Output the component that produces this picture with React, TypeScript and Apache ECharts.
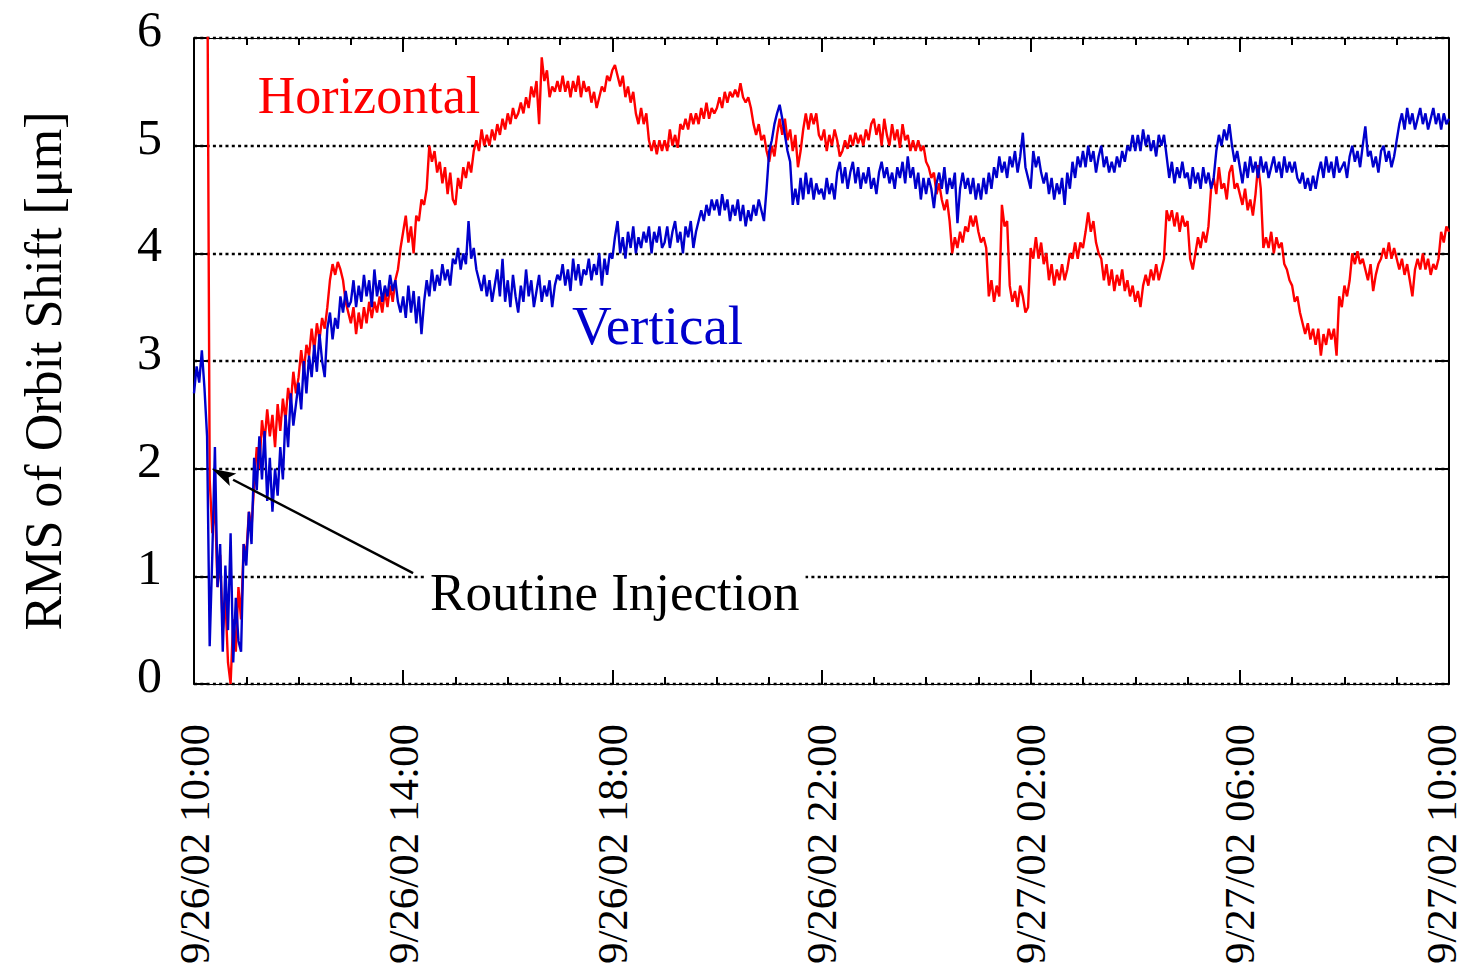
import React, { useEffect, useRef } from "react";
import * as echarts from "echarts";

// Orbit RMS drift over one day, sampled every 0.05 h from 9/26/02 10:00.
const SAMPLE_STEP_H = 0.05;
const TIME_LABELS = [
  "9/26/02 10:00",
  "9/26/02 14:00",
  "9/26/02 18:00",
  "9/26/02 22:00",
  "9/27/02 02:00",
  "9/27/02 06:00",
  "9/27/02 10:00",
];
const Y_TICKS = [0, 1, 2, 3, 4, 5, 6];

// Horizontal RMS [um], one row per hour (20 samples each), final sample at +24 h.
const horizontalRms = [
  7.5, 7.5, 7.5, 7.5, 7.5, 7.3, 1.9, 1.4, 1.7, 0.9, 1.2, 0.5, 0.8, 0.2, 0.0, 0.6, 0.3, 0.9, 0.6, 1.3,
  1.2, 1.6, 1.45, 1.85, 2.2, 2.0, 2.45, 2.25, 2.55, 2.3, 2.5, 2.2, 2.6, 2.35, 2.65, 2.45, 2.75, 2.6, 2.9, 2.7,
  2.85, 3.1, 2.9, 3.15, 3.05, 3.3, 3.1, 3.35, 3.2, 3.4, 3.3, 3.5, 3.75, 3.9, 3.8, 3.92, 3.85, 3.75, 3.55, 3.45,
  3.35, 3.5, 3.25, 3.45, 3.3, 3.5, 3.35, 3.55, 3.4, 3.55, 3.45, 3.6, 3.45, 3.65, 3.5, 3.7, 3.55, 3.75, 3.85, 4.05,
  4.2, 4.35, 4.1, 4.25, 4.0, 4.35, 4.3, 4.5, 4.45, 4.6, 5.0, 4.85, 4.95, 4.75, 4.85, 4.65, 4.8, 4.55, 4.75, 4.5,
  4.45, 4.7, 4.6, 4.8, 4.7, 4.85, 4.75, 4.95, 5.05, 4.95, 5.15, 5.0, 5.1, 5.0, 5.15, 5.05, 5.2, 5.1, 5.25, 5.15,
  5.3, 5.2, 5.35, 5.25, 5.3, 5.4, 5.3, 5.45, 5.35, 5.55, 5.45, 5.6, 5.2, 5.82, 5.6, 5.7, 5.45, 5.55, 5.5, 5.6,
  5.5, 5.65, 5.5, 5.6, 5.45, 5.6, 5.5, 5.65, 5.45, 5.6, 5.5, 5.55, 5.4, 5.5, 5.35, 5.45, 5.55, 5.5, 5.65, 5.6,
  5.7, 5.75, 5.65, 5.55, 5.65, 5.45, 5.55, 5.4, 5.5, 5.3, 5.2, 5.35, 5.2, 5.3, 5.05, 4.95, 5.05, 4.92, 5.05, 4.95,
  5.05, 4.95, 5.15, 5.0, 5.1, 4.98, 5.2, 5.15, 5.25, 5.15, 5.3, 5.2, 5.3, 5.2, 5.35, 5.25, 5.4, 5.25, 5.35, 5.3,
  5.35, 5.45, 5.35, 5.5, 5.4, 5.5, 5.45, 5.52, 5.45, 5.58, 5.45, 5.4, 5.45, 5.35, 5.2, 5.1, 5.2, 5.05, 5.1, 4.95,
  4.85, 5.0, 4.9, 5.1, 5.25, 5.1, 5.25, 5.05, 5.15, 4.95, 5.1, 4.8, 4.95, 5.15, 5.3, 5.15, 5.3, 5.2, 5.3, 5.1,
  5.05, 5.15, 4.95, 5.1, 5.0, 5.15, 5.05, 4.9, 4.95, 5.05, 4.97, 5.1, 5.0, 5.12, 5.02, 5.1, 5.0, 5.15, 5.05, 5.2,
  5.25, 5.1, 5.2, 5.0, 5.25, 5.1, 5.0, 5.2, 5.05, 5.15, 4.98, 5.2, 5.05, 5.1, 4.95, 5.05, 4.95, 5.05, 4.95, 5.0,
  4.85, 4.8, 4.7, 4.75, 4.55, 4.65, 4.5, 4.4, 4.5, 4.3, 4.0, 4.15, 4.05, 4.2, 4.1, 4.25, 4.2, 4.35, 4.25, 4.35,
  4.2, 4.1, 4.15, 4.05, 3.6, 3.75, 3.55, 3.7, 3.6, 4.45, 4.25, 4.3, 3.7, 3.55, 3.65, 3.5, 3.7, 3.6, 3.45, 3.5,
  4.05, 3.95, 4.15, 3.95, 4.1, 3.9, 4.0, 3.75, 3.9, 3.7, 3.85, 3.75, 3.9, 3.75, 3.85, 4.0, 3.95, 4.1, 3.95, 4.1,
  4.05, 4.2, 4.38, 4.2, 4.3, 4.1, 4.0, 3.95, 3.75, 3.9, 3.7, 3.85, 3.65, 3.8, 3.7, 3.85, 3.65, 3.75, 3.6, 3.7,
  3.55, 3.65, 3.5, 3.7, 3.8, 3.7, 3.85, 3.75, 3.9, 3.75, 3.85, 3.95, 4.4, 4.3, 4.4, 4.25, 4.38, 4.2, 4.35, 4.25,
  4.3, 3.95, 3.85, 4.0, 4.15, 4.05, 4.2, 4.1, 4.25, 4.6, 4.7, 4.55, 4.8, 4.6, 4.65, 4.5, 4.75, 4.82, 4.6, 4.65,
  4.55, 4.45, 4.6, 4.4, 4.5, 4.35, 4.55, 4.82, 4.6, 4.05, 4.15, 4.05, 4.2, 4.0, 4.15, 4.05, 4.1, 3.9, 3.85, 3.75,
  3.7, 3.55, 3.6, 3.45, 3.35, 3.25, 3.35, 3.2, 3.3, 3.15, 3.3, 3.05, 3.25, 3.15, 3.3, 3.2, 3.3, 3.05, 3.6, 3.5,
  3.7, 3.6, 3.75, 4.0, 3.9, 4.02, 3.9, 3.95, 3.85, 3.75, 3.9, 3.65, 3.8, 3.9, 3.95, 4.05, 3.95, 4.1, 3.95, 4.05,
  3.95, 3.85, 3.95, 3.8, 3.9, 3.75, 3.6, 3.85, 3.95, 3.85, 4.0, 3.85, 3.95, 3.8, 3.9, 3.85, 3.95, 4.2, 4.1, 4.25,
  4.2,
];

// Vertical RMS [um], same sampling.
const verticalRms = [
  2.7, 2.95, 2.8, 3.1, 2.75, 2.3, 0.35, 1.2, 2.2, 0.9, 1.3, 0.3, 1.1, 0.5, 1.4, 0.2, 0.8, 0.4, 0.3, 1.3,
  1.1, 1.6, 1.3, 2.1, 1.8, 2.3, 1.9, 2.35, 1.7, 2.1, 1.6, 2.0, 1.75, 2.2, 1.9, 2.5, 2.2, 2.7, 2.4, 2.6,
  2.8, 2.55, 3.0, 2.7, 3.05, 2.85, 3.15, 2.9, 3.25, 3.0, 2.85, 3.3, 3.45, 3.2, 3.4, 3.3, 3.6, 3.45, 3.65, 3.5,
  3.55, 3.75, 3.5, 3.7, 3.55, 3.8, 3.6, 3.75, 3.5, 3.85, 3.6, 3.75, 3.55, 3.7, 3.6, 3.8, 3.65, 3.75, 3.55, 3.45,
  3.6, 3.4, 3.7, 3.45, 3.65, 3.35, 3.6, 3.25, 3.55, 3.75, 3.6, 3.85, 3.65, 3.8, 3.7, 3.9, 3.75, 3.85, 3.7, 3.95,
  3.9, 4.05, 3.85, 4.0, 3.9, 4.3, 3.95, 4.05, 3.85, 3.75, 3.65, 3.8, 3.6, 3.75, 3.55, 3.7, 3.85, 3.6, 3.95, 3.55,
  3.75, 3.5, 3.8, 3.6, 3.45, 3.7, 3.55, 3.85, 3.6, 3.75, 3.5, 3.65, 3.8, 3.55, 3.7, 3.6, 3.75, 3.5, 3.7, 3.8,
  3.75, 3.9, 3.7, 3.85, 3.65, 3.95, 3.75, 3.9, 3.7, 3.85, 3.8, 3.95, 3.75, 3.9, 3.8, 4.0, 3.7, 3.95, 3.8, 4.0,
  3.95, 4.15, 4.3, 4.0, 4.15, 3.95, 4.2, 4.05, 4.25, 4.0, 4.15, 4.05, 4.2, 4.1, 4.25, 4.0, 4.2, 4.1, 4.25, 4.05,
  4.1, 4.25, 4.05, 4.2, 4.3, 4.1, 4.2, 4.0, 4.25, 4.15, 4.3, 4.05, 4.2, 4.3, 4.4, 4.3, 4.45, 4.35, 4.5, 4.4,
  4.5, 4.35, 4.55, 4.4, 4.5, 4.3, 4.45, 4.35, 4.5, 4.3, 4.45, 4.25, 4.4, 4.3, 4.45, 4.35, 4.5, 4.4, 4.3, 4.6,
  4.95, 5.05, 5.2, 5.3, 5.38, 5.25, 5.1, 4.95, 4.85, 4.45, 4.6, 4.45, 4.7, 4.5, 4.75, 4.55, 4.7, 4.5, 4.65, 4.55,
  4.6, 4.5, 4.7, 4.55, 4.65, 4.5, 4.75, 4.85, 4.65, 4.8, 4.6, 4.75, 4.85, 4.65, 4.8, 4.6, 4.75, 4.65, 4.8, 4.6,
  4.7, 4.55, 4.75, 4.85, 4.7, 4.8, 4.65, 4.75, 4.6, 4.8, 4.7, 4.85, 4.65, 4.9, 4.7, 4.8, 4.6, 4.75, 4.5, 4.7,
  4.55, 4.7, 4.6, 4.42, 4.65, 4.75, 4.6, 4.8, 4.55, 4.7, 4.6, 4.75, 4.28, 4.6, 4.75, 4.6, 4.7, 4.55, 4.7, 4.5,
  4.65, 4.5, 4.7, 4.55, 4.75, 4.6, 4.8, 4.7, 4.9, 4.75, 4.85, 4.7, 4.9, 4.8, 4.95, 4.75, 4.9, 5.12, 4.8, 4.7,
  4.6, 4.95, 4.8, 4.9, 4.75, 4.65, 4.75, 4.55, 4.7, 4.5, 4.65, 4.55, 4.7, 4.45, 4.75, 4.6, 4.85, 4.7, 4.9, 4.8,
  4.95, 4.8, 5.0, 4.85, 4.95, 4.75, 4.9, 5.0, 4.8, 4.9, 4.75, 4.85, 4.75, 4.9, 4.8, 4.95, 4.85, 5.0, 4.95, 5.1,
  4.95, 5.1, 4.95, 5.15, 5.0, 5.1, 4.95, 5.05, 4.9, 5.1, 5.0, 5.1, 4.9, 4.7, 4.85, 4.65, 4.8, 4.7, 4.85, 4.7,
  4.75, 4.6, 4.8, 4.65, 4.75, 4.6, 4.8, 4.65, 4.75, 4.6, 4.7, 4.95, 5.1, 5.0, 5.15, 5.05, 5.2, 5.0, 4.85, 4.95,
  4.8, 4.65, 4.85, 4.7, 4.9, 4.75, 4.85, 4.7, 4.9, 4.75, 4.85, 4.7, 4.8, 4.9, 4.75, 4.85, 4.7, 4.9, 4.75, 4.85,
  4.75, 4.85, 4.7, 4.65, 4.75, 4.6, 4.7, 4.58, 4.72, 4.6, 4.75, 4.85, 4.7, 4.9, 4.75, 4.85, 4.7, 4.9, 4.75, 4.8,
  4.85, 4.7, 4.9, 5.0, 4.85, 4.95, 4.8, 5.0, 5.18, 4.9, 4.95, 4.8, 4.9, 4.75, 4.95, 5.0, 4.85, 4.95, 4.8, 4.9,
  5.05, 5.2, 5.3, 5.15, 5.35, 5.2, 5.3, 5.15, 5.25, 5.35, 5.2, 5.3, 5.15, 5.25, 5.35, 5.2, 5.3, 5.15, 5.3, 5.2,
  5.25,
];

// Annotation anchors in data units (hours since start, um).
const ARROW_TIP = [0.34, 2.0];
const ARROW_TAIL = [4.19, 1.03];

const SERIF = '"Liberation Serif", "Times New Roman", serif';
const RED = "#ff0000";
const BLUE = "#0000cc";

const toPairs = (vals: number[]) => vals.map((v, i) => [+(i * SAMPLE_STEP_H).toFixed(2), v]);

export default function App() {
  const ref = useRef<HTMLDivElement>(null);

  useEffect(() => {
    if (!ref.current) return;
    const chart = echarts.init(ref.current, undefined, { renderer: "svg" });

    const tickStyle = { color: "#000", width: 2 };
    const xCommon = {
      type: "value" as const,
      min: 0,
      max: 24,
      interval: 4,
      axisLine: { show: true, onZero: false, lineStyle: { color: "#000", width: 1 } },
      axisTick: { show: true, inside: true, length: 14, lineStyle: tickStyle },
      minorTick: { show: true, splitNumber: 4, length: 7, lineStyle: tickStyle },
      splitLine: { show: false },
    };
    const yCommon = {
      type: "value" as const,
      min: Y_TICKS[0],
      max: Y_TICKS[Y_TICKS.length - 1],
      interval: 1,
      axisLine: { show: true, onZero: false, lineStyle: { color: "#000", width: 2 } },
      axisTick: { show: true, inside: true, length: 14, lineStyle: tickStyle },
    };
    const xLabelText = { color: "#000", fontFamily: SERIF, fontSize: 43, lineHeight: 30 };

    chart.setOption({
      animation: false,
      backgroundColor: "#fff",
      grid: {
        left: 194,
        right: 17,
        top: 38,
        bottom: 286,
        containLabel: false,
        outerBoundsMode: "none",
      },
      xAxis: [
        {
          ...xCommon,
          position: "bottom",
          axisLabel: {
            rotate: 90,
            margin: 40,
            showMinLabel: true,
            showMaxLabel: true,
            formatter: (v: number) => {
              const i = Math.round(v / 4);
              const s = TIME_LABELS[i] ?? "";
              return i === TIME_LABELS.length - 1 ? `{e|${s}}` : `{n|${s}}`;
            },
            rich: {
              n: { ...xLabelText },
              e: { ...xLabelText, padding: [0, 0, 16, 0] },
            },
          },
        },
        { ...xCommon, position: "top", axisLabel: { show: false } },
      ],
      yAxis: [
        {
          ...yCommon,
          position: "left",
          name: "RMS of Orbit Shift [\u03bcm]",
          nameLocation: "middle",
          nameGap: 125,
          nameTextStyle: { color: "#000", fontFamily: SERIF, fontSize: 52, padding: [0, 20, 0, 0] },
          axisLabel: {
            margin: 32,
            formatter: (v: number) => `{t|${v}}`,
            rich: {
              t: { color: "#000", fontFamily: SERIF, fontSize: 50, lineHeight: 40, padding: [0, 0, 18, 0] },
            },
          },
          splitLine: {
            show: true,
            lineStyle: { color: "#000", width: 2.3, type: [3, 3.3] },
          },
        },
        { ...yCommon, position: "right", axisLabel: { show: false }, splitLine: { show: false } },
      ],
      series: [
        {
          name: "Horizontal",
          type: "line",
          data: toPairs(horizontalRms),
          showSymbol: false,
          clip: true,
          lineStyle: { color: RED, width: 2.4 },
          itemStyle: { color: RED },
          z: 3,
        },
        {
          name: "Vertical",
          type: "line",
          data: toPairs(verticalRms),
          showSymbol: false,
          clip: true,
          lineStyle: { color: BLUE, width: 2.4 },
          itemStyle: { color: BLUE },
          z: 4,
        },
      ],
    });

    // Labels and arrow placed from data coordinates.
    const px = (p: number[]) => chart.convertToPixel({ gridIndex: 0 }, p) as number[];
    const tip = px(ARROW_TIP);
    const tail = px(ARROW_TAIL);
    const dx = tip[0] - tail[0];
    const dy = tip[1] - tail[1];
    const len = Math.hypot(dx, dy);
    const ux = dx / len;
    const uy = dy / len;
    const headLen = 24;
    const headHalf = 7;
    const bx = tip[0] - ux * headLen;
    const by = tip[1] - uy * headLen;
    const nx = -uy;
    const ny = ux;

    const hPos = px([1.22, 5.47]);
    const vPos = px([7.23, 3.33]);
    const rPos = px([4.4, 0.85]);

    chart.setOption({
      graphic: [
        {
          type: "line",
          shape: { x1: tail[0], y1: tail[1], x2: bx, y2: by },
          style: { stroke: "#000", lineWidth: 2.4 },
          z: 10,
        },
        {
          type: "polygon",
          shape: {
            points: [
              [tip[0], tip[1]],
              [bx + nx * headHalf, by + ny * headHalf],
              [bx + ux * 5, by + uy * 5],
              [bx - nx * headHalf, by - ny * headHalf],
            ],
          },
          style: { fill: "#000" },
          z: 10,
        },
        {
          type: "text",
          x: hPos[0],
          y: hPos[1],
          style: { text: "Horizontal", fill: RED, fontFamily: SERIF, fontSize: 52, align: "left", verticalAlign: "middle" },
          z: 10,
        },
        {
          type: "text",
          x: vPos[0],
          y: vPos[1],
          style: { text: "Vertical", fill: BLUE, fontFamily: SERIF, fontSize: 55, align: "left", verticalAlign: "middle" },
          z: 10,
        },
        {
          type: "text",
          x: rPos[0],
          y: rPos[1],
          style: {
            text: "Routine Injection",
            fill: "#000",
            fontFamily: SERIF,
            fontSize: 53,
            align: "left",
            verticalAlign: "middle",
            backgroundColor: "#fff",
            padding: [0, 6, 0, 6],
          },
          z: 10,
        },
      ],
    });

    return () => chart.dispose();
  }, []);

  return (
    <div
      ref={ref}
      style={{ position: "fixed", left: 0, top: 0, width: 1466, height: 970, background: "#fff" }}
    />
  );
}
